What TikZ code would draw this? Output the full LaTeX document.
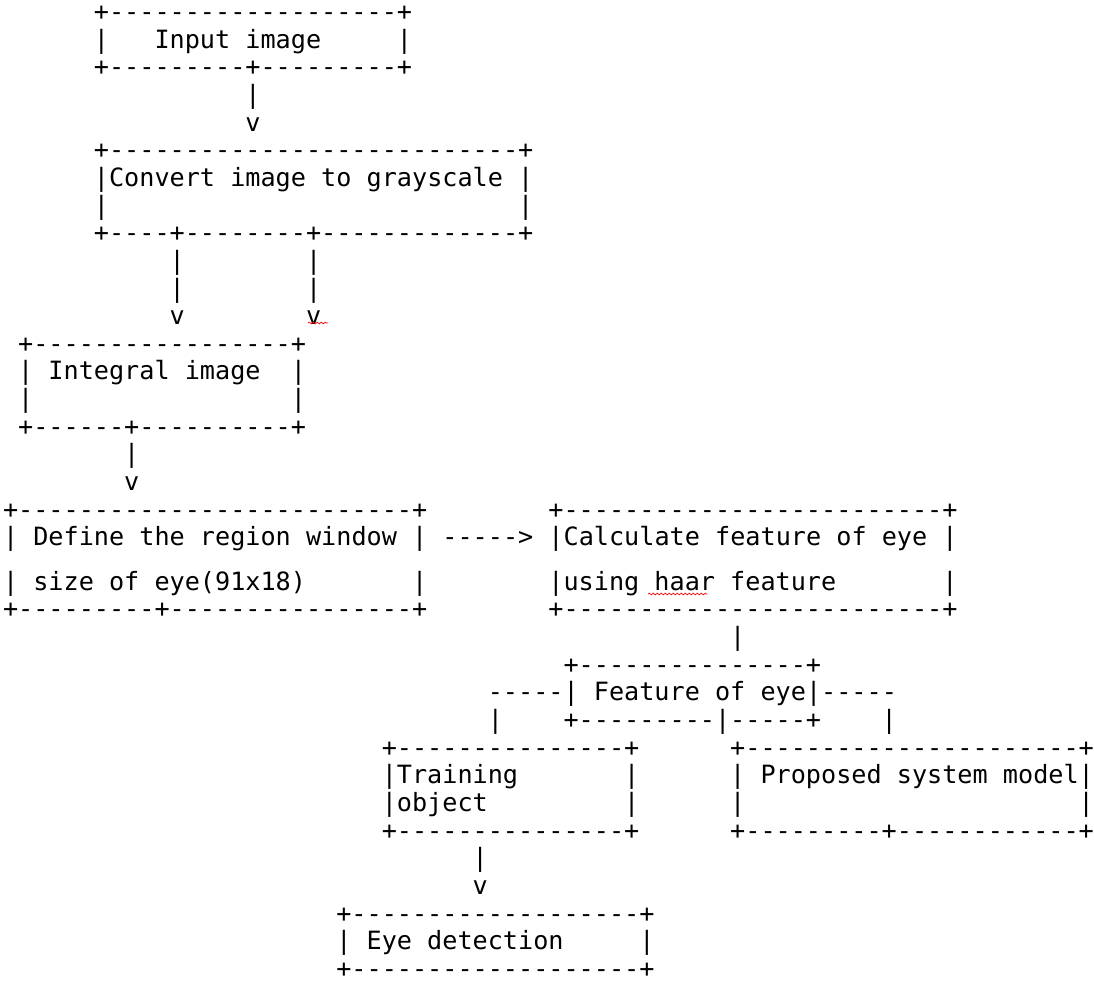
\documentclass[tikz,border=0pt]{standalone}
\usepackage{fontspec}
\setmonofont{DejaVu Sans Mono}
\usepackage{tikz}
\usetikzlibrary{decorations.pathmorphing}
\tikzstyle{ascii}=[font=\ttfamily\fontsize{25.17pt}{27.64pt}\selectfont, inner sep=0pt, outer sep=0pt, anchor=mid west]
\tikzstyle{squiggle}=[draw=red, line width=0.7pt, decorate, decoration={snake, amplitude=0.9pt, segment length=4pt}]

\begin{document}
\begin{tikzpicture}

\useasboundingbox (0pt,0pt) rectangle (1094pt,-982pt);

\begin{scope}[shift={(3pt,-18.5pt)}, x=15.15pt, y=-27.64pt]

% input image
\node[ascii] (inTop) at (6,0) {+-------------------+};
\node[ascii] (inL) at (6,1) {|};
\node[ascii] (inText) at (10,1) {Input image};
\node[ascii] (inR) at (26,1) {|};
\node[ascii] (inBot) at (6,2) {+---------+---------+};
\node[ascii] (inBar) at (16,3) {|};
\node[ascii] (inV) at (16,4) {v};

% grayscale
\node[ascii] (grayTop) at (6,5) {+---------------------------+};
\node[ascii] (grayText) at (6,6) {|Convert image to grayscale |};
\node[ascii] (grayL) at (6,7) {|};
\node[ascii] (grayR) at (34,7) {|};
\node[ascii] (grayBot) at (6,8) {+----+--------+-------------+};
\foreach \r in {9,10}{
  \node[ascii] (grayBarA\r) at (11,\r) {|};
  \node[ascii] (grayBarB\r) at (20,\r) {|};
}
\node[ascii] (grayVA) at (11,11) {v};
\node[ascii] (grayVB) at (20,11) {v};

% integral image
\node[ascii] (intTop) at (1,12) {+-----------------+};
\node[ascii] (intL) at (1,13) {|};
\node[ascii] (intText) at (3,13) {Integral image};
\node[ascii] (intR) at (19,13) {|};
\node[ascii] (intL2) at (1,14) {|};
\node[ascii] (intR2) at (19,14) {|};
\node[ascii] (intBot) at (1,15) {+------+----------+};
\node[ascii] (intBar) at (8,16) {|};
\node[ascii] (intV) at (8,17) {v};

% region window / haar feature
\node[ascii] (winTop) at (0,18) {+--------------------------+};
\node[ascii] (calcTop) at (36,18) {+-------------------------+};
\node[ascii] (winText) at (0,19) {| Define the region window | -----> |Calculate feature of eye |};
\node[ascii] (winL) at (0,20.61) {|};
\node[ascii] (winText2) at (2,20.61) {size of eye(91x18)};
\node[ascii] (winR) at (27,20.61) {|};
\node[ascii] (calcText2) at (36,20.61) {|using haar feature};
\node[ascii] (calcR) at (62,20.61) {|};
\node[ascii] (winBot) at (0,21.61) {+---------+----------------+};
\node[ascii] (calcBot) at (36,21.61) {+-------------------------+};
\node[ascii] (calcBar) at (48,22.61) {|};

% feature of eye
\node[ascii] (featTop) at (37,23.61) {+---------------+};
\node[ascii] (featText) at (32,24.61) {-----| Feature of eye|-----};
\node[ascii] (featBarL) at (32,25.61) {|};
\node[ascii] (featBot) at (37,25.61) {+---------|-----+};
\node[ascii] (featBarR) at (58,25.61) {|};

% training object / proposed model
\node[ascii] (trainTop) at (25,26.61) {+---------------+};
\node[ascii] (propTop) at (48,26.61) {+----------------------+};
\node[ascii] (trainText) at (25,27.61) {|Training};
\node[ascii] (trainR) at (41,27.61) {|};
\node[ascii] (propText) at (48,27.61) {| Proposed system model|};
\node[ascii] (trainText2) at (25,28.61) {|object};
\node[ascii] (trainR2) at (41,28.61) {|};
\node[ascii] (propL) at (48,28.61) {|};
\node[ascii] (propR) at (71,28.61) {|};
\node[ascii] (trainBot) at (25,29.61) {+---------------+};
\node[ascii] (propBot) at (48,29.61) {+---------+------------+};
\node[ascii] (trainBar) at (31,30.61) {|};
\node[ascii] (trainV) at (31,31.61) {v};

% eye detection
\node[ascii] (eyeTop) at (22,32.61) {+-------------------+};
\node[ascii] (eyeL) at (22,33.61) {|};
\node[ascii] (eyeText) at (24,33.61) {Eye detection};
\node[ascii] (eyeR) at (42,33.61) {|};
\node[ascii] (eyeBot) at (22,34.61) {+-------------------+};

\end{scope}

% spell check marks
\coordinate (sqA1) at (308pt,-323pt);
\coordinate (sqA2) at (328pt,-323pt);
\coordinate (sqB1) at (648pt,-594pt);
\coordinate (sqB2) at (707pt,-594pt);
\draw[squiggle] (sqA1) -- (sqA2);
\draw[squiggle] (sqB1) -- (sqB2);

\end{tikzpicture}
\end{document}
